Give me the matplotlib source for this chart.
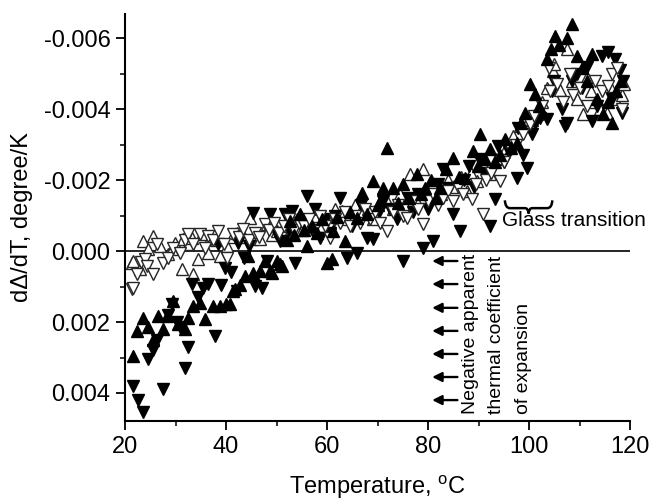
import matplotlib
matplotlib.use('Agg')
import matplotlib.pyplot as plt
from matplotlib.path import Path
from matplotlib.patches import PathPatch
import numpy as np

plt.rcParams['font.family'] = ['Liberation Sans', 'DejaVu Sans']
plt.rcParams['mathtext.fontset'] = 'custom'
plt.rcParams['mathtext.rm'] = 'Liberation Sans'

# valores (dDelta/dT em unidades de 1e-3 degree/K)
up_filled_t = [21.5, 22.4, 23.5, 24.5, 25.5, 26.5, 27.5, 28.2, 29.4, 30.5, 31.9, 32.5, 33.5, 34.8,
               35.8, 37.4, 38.8, 40.0, 40.8, 41.4, 41.8, 42.8, 43.8, 44.4, 45.3, 46.7, 47.7, 48.7,
               49.1, 50.1, 50.7, 51.1, 52.0, 52.7, 53.5, 54.7, 55.4, 56.0, 57.0, 58.0, 59.0, 60.0,
               61.0, 61.2, 62.0, 63.6, 64.5, 65.9, 66.9, 67.9, 69.1, 70.0, 71.1, 71.9, 73.1, 74.0,
               75.1, 76.2, 77.8, 78.5, 79.4, 80.5, 81.5, 82.4, 83.5, 85.0, 86.2, 87.3, 88.9, 89.8,
               90.3, 91.3, 92.3, 93.2, 94.2, 95.2, 96.5, 97.6, 98.3, 99.2, 100.2, 101.2, 102.0,
               103.6, 104.3, 105.1, 106.0, 107.5, 108.5, 109.5, 110.5, 111.5, 112.5, 113.5, 114.7,
               115.6, 116.5, 117.3, 118.2]
up_filled_v = [2.95, 2.25, 1.88, 2.15, 2.5, 1.82, 2.2, 1.83, 1.4, 2.05, 2.2, 1.88, 1.55, 1.46,
               1.92, 1.55, 1.55, 1.5, 1.48, 1.13, 1.07, 0.95, 0.70, 0.14, 0.62, 0.56, 0.28, 0.56,
               0.62, 0.28, 0.37, 0.42, -0.30, -0.85, -0.45, -1.04, -0.60, -0.14, -0.70, -0.50, -0.90, 0.34,
               0.23, -0.56, -0.95, -0.28, -1.10, -0.93, -1.63, -1.04, -1.97, -1.30, -1.77, -2.90, -1.77, -1.35,
               -1.89, -1.50, -2.17, -1.60, -1.77, -2.00, -1.50, -1.77, -2.30, -2.62, -2.10, -2.06, -2.82, -2.40,
               -3.30, -2.59, -2.87, -2.50, -2.70, -3.15, -2.90, -3.04, -3.60, -3.89, -4.70, -4.42, -4.10,
               -5.40, -5.70, -6.05, -5.80, -6.00, -6.40, -5.50, -5.15, -4.80, -5.55, -4.30, -3.85,
               -4.20, -3.60, -4.50, -4.80]

down_filled_t = [21.5, 22.6, 23.5, 24.6, 25.5, 26.3, 27.5, 28.5, 29.3, 30.2, 30.9, 31.9, 32.5, 33.2,
                 34.5, 35.5, 36.5, 37.8, 38.4, 39.0, 39.8, 41.0, 42.1, 42.4, 43.5, 44.5, 45.3, 45.8,
                 47.1, 48.1, 48.7, 49.8, 50.7, 51.7, 52.5, 53.1, 53.7, 54.5, 56.0, 57.0, 57.6, 58.6,
                 59.5, 60.5, 61.5, 62.6, 64.0, 65.0, 65.9, 66.8, 67.9, 69.1, 70.2, 71.0, 72.5, 73.8,
                 75.1, 76.0, 77.0, 78.0, 79.0, 80.0, 81.0, 82.0, 83.0, 84.0, 85.0, 86.3, 87.2, 88.0,
                 89.0, 90.0, 91.0, 92.3, 93.3, 93.9, 95.0, 96.0, 97.6, 97.8, 98.8, 99.6, 100.5, 101.2,
                 102.2, 103.6, 104.5, 105.0, 106.5, 107.1, 107.5, 108.5, 109.5, 110.5, 111.5, 112.5,
                 113.5, 114.5, 115.6, 116.5, 117.0, 118.0, 118.6, 118.4]
down_filled_v = [3.80, 4.20, 4.55, 3.05, 2.80, 2.50, 3.90, 1.80, 1.50, 2.00, 2.15, 3.30, 2.70, 0.93,
                 1.30, 1.05, 0.93, 2.40, -0.20, 0.95, 0.48, 0.60, 1.13, -0.23, 0.20, -0.15, -1.07, 0.99,
                 1.03, 0.28, -1.04, -0.50, -0.28, -1.04, -0.60, -1.13, 0.34, -0.80, -1.55, -0.60, -1.18, -0.37,
                 -0.90, -0.50, -1.00, -1.50, 0.20, -0.70, 0.06, -1.30, -0.37, -0.34, -1.10, -1.40, -1.20, -0.90,
                 0.28, -1.50, -1.10, -1.60, -0.08, -1.20, -0.28, -1.90, -2.30, -1.77, -1.04, -0.56, -2.00, -2.40,
                 -1.80, -2.60, -2.20, -0.70, -1.46, -2.96, -2.50, -2.80, -2.06, -3.46, -2.70, -2.34, -3.30, -3.60,
                 -3.75, -3.72, -4.50, -4.80, -4.00, -3.52, -3.60, -4.80, -5.00, -4.60, -5.20, -3.66,
                 -4.10, -5.50, -5.60, -4.30, -5.40, -5.10, -4.80, -3.90]

up_open_t = [21.3, 21.6, 22.9, 23.6, 24.6, 25.6, 26.9, 28.4, 29.3, 29.9, 31.2, 31.5, 32.5, 33.2,
             33.5, 34.5, 35.2, 36.4, 36.8, 38.0, 38.8, 40.2, 41.2, 42.2, 43.5, 44.8, 45.1, 46.7,
             48.1, 49.0, 50.1, 51.5, 52.5, 54.0, 55.0, 56.5, 57.5, 58.5, 59.2, 60.5, 61.5, 63.0,
             64.0, 65.5, 66.5, 68.0, 69.0, 70.5, 71.9, 73.0, 74.5, 75.5, 76.4, 77.5, 79.0, 80.0,
             81.0, 82.5, 84.0, 85.5, 86.5, 87.7, 88.5, 89.7, 91.0, 92.3, 93.5, 94.3, 95.5, 96.8,
             98.2, 99.5, 100.5, 101.6, 102.5, 103.5, 104.8, 105.0, 106.2, 107.5, 108.5, 109.5, 110.7,
             111.5, 112.2, 113.0, 114.0, 115.4, 116.0, 117.0, 118.4, 118.8]
up_open_v = [0.34, 0.28, 0.50, -0.28, -0.06, -0.42, -0.14, 0.08, -0.06, -0.23, 0.50, -0.34, -0.20, -0.37,
             0.65, 0.23, -0.48, 0.06, -0.37, -0.30, 0.14, -0.14, -0.40, -0.51, -0.40, -0.93, -0.34, -0.34,
             -0.76, -0.45, -0.56, -0.70, -0.50, -0.90, -0.60, -0.80, -1.00, -0.70, -0.90, -0.80, -1.20, -1.13,
             -0.90, -1.30, -1.10, -1.20, -0.90, -1.40, -1.40, -1.20, -1.60, -1.30, -2.17, -1.50, -2.30, -1.70,
             -1.90, -1.60, -2.00, -1.80, -2.10, -1.69, -2.20, -1.97, -2.40, -2.17, -2.60, -2.62, -2.90, -3.24,
             -3.52, -3.60, -3.70, -3.86, -4.20, -4.60, -5.07, -5.27, -4.55, -5.70, -4.80, -4.30, -3.85,
             -4.90, -4.50, -4.20, -4.00, -3.90, -4.65, -4.30, -4.40, -4.70]

down_open_t = [21.3, 21.6, 22.3, 23.2, 24.0, 24.3, 25.6, 26.3, 27.5, 28.5, 29.5, 30.9, 31.8, 32.5,
               33.5, 34.8, 35.8, 36.4, 37.5, 38.4, 39.5, 40.2, 41.4, 42.5, 43.4, 44.5, 45.7, 46.5,
               47.7, 48.5, 49.5, 50.5, 51.5, 52.5, 53.5, 54.5, 55.5, 56.5, 57.5, 58.5, 59.5, 60.6,
               61.5, 62.5, 63.5, 64.5, 65.5, 66.5, 67.5, 68.5, 69.5, 70.5, 71.9, 73.0, 74.0, 75.0,
               75.8, 77.0, 78.0, 79.0, 80.0, 81.0, 82.0, 83.0, 84.0, 85.0, 86.0, 87.0, 88.7, 89.5,
               90.9, 91.5, 92.5, 94.3, 95.0, 96.2, 97.5, 98.8, 100.2, 101.0, 102.5, 104.0, 104.2,
               105.5, 106.8, 108.0, 108.7, 110.0, 111.5, 113.0, 114.5, 115.6, 116.5, 117.4, 118.4]
down_open_v = [1.07, 1.04, 0.65, 0.30, 0.23, 0.42, 0.65, -0.20, 0.34, 0.20, -0.10, 0.06, -0.30, -0.48,
               -0.20, -0.48, -0.10, -0.42, -0.30, -0.56, -0.20, 0.20, -0.48, -0.40, -0.62, -0.30, -0.51, -0.40,
               -0.76, -0.60, -0.80, -0.50, -0.70, -0.90, -0.60, -0.80, -0.70, -0.90, -0.60, -1.00, -0.70, -0.37,
               -0.90, -0.80, -1.10, -0.70, -1.00, -0.80, -1.20, -0.90, -1.10, -0.80, -0.56, -1.10, -1.30, -1.00,
               -0.93, -1.40, -1.20, -0.76, -1.40, -1.60, -1.30, -1.50, -1.70, -1.40, -1.80, -1.60, -1.46, -1.90,
               -1.04, -2.00, -2.20, -1.97, -2.50, -2.90, -3.00, -3.30, -3.58, -3.80, -4.10, -5.15, -4.50,
               -4.70, -4.20, -5.00, -4.40, -4.60, -4.10, -4.80, -4.50, -4.65, -5.00, -5.15, -4.00]

# setas "Negative apparent ..." (posicoes em y)
arrow_y = [0.28, 0.93, 1.60, 2.25, 2.90, 3.55, 4.20]

x_ticks = [20, 40, 60, 80, 100, 120]
y_ticks = [-0.006, -0.004, -0.002, 0.000, 0.002, 0.004]
y_tick_labels = ['-0.006', '-0.004', '-0.002', '0.000', '0.002', '0.004']

fig = plt.figure(figsize=(6.55, 5.03), dpi=100)
ax = fig.add_axes([0.191, 0.163, 0.771, 0.809])

ms = 9
ax.plot(up_open_t, np.array(up_open_v) * 1e-3, '^', ms=ms, mfc='white', mec='0.15', mew=1.0, ls='none')
ax.plot(down_filled_t, np.array(down_filled_v) * 1e-3, 'v', ms=ms, color='black', ls='none')
ax.plot(down_open_t, np.array(down_open_v) * 1e-3, 'v', ms=ms, mfc='white', mec='0.15', mew=1.0, ls='none')
ax.plot(up_filled_t, np.array(up_filled_v) * 1e-3, '^', ms=ms, color='black', ls='none')

ax.axhline(0, color='black', lw=1.2, zorder=1)

for y in arrow_y:
    ax.annotate('', xy=(80.8, y * 1e-3), xytext=(85.8, y * 1e-3),
                arrowprops=dict(arrowstyle='-|>', color='black', lw=1.7, mutation_scale=14,
                                shrinkA=0, shrinkB=0))

ax.text(88.3, 4.6e-3, 'Negative apparent', rotation=90, ha='center', va='bottom', fontsize=14)
ax.text(93.6, 4.6e-3, 'thermal coefficient', rotation=90, ha='center', va='bottom', fontsize=14)
ax.text(98.8, 4.6e-3, 'of expansion', rotation=90, ha='center', va='bottom', fontsize=14)

# chave da transicao vitrea (desenhada como curva)
bx0, bx1, bm = 95.2, 104.6, 99.9
by_end, by_mid, by_tip = -1.43e-3, -1.21e-3, -1.06e-3
brace_verts = [(bx0, by_end), (bx0 + 0.1, by_mid), (bx0 + 1.0, by_mid),
               (bm - 0.7, by_mid), (bm - 0.1, by_mid), (bm, by_tip),
               (bm + 0.1, by_mid), (bm + 0.7, by_mid),
               (bx1 - 1.0, by_mid), (bx1 - 0.1, by_mid), (bx1, by_end)]
brace_codes = [Path.MOVETO, Path.CURVE3, Path.CURVE3,
               Path.LINETO, Path.CURVE3, Path.CURVE3,
               Path.CURVE3, Path.CURVE3,
               Path.LINETO, Path.CURVE3, Path.CURVE3]
ax.add_patch(PathPatch(Path(brace_verts, brace_codes), fill=False, lw=1.8, edgecolor='black'))
ax.text(94.6, -0.85e-3, 'Glass transition', ha='left', va='center', fontsize=15)

ax.set_xlim(20, 120)
ax.set_ylim(0.00479, -0.00668)
ax.set_xticks(x_ticks)
ax.set_xticks(np.arange(30, 120, 20), minor=True)
ax.set_yticks(y_ticks)
ax.set_yticklabels(y_tick_labels)
ax.set_yticks(np.arange(-0.005, 0.0046, 0.002), minor=True)

ax.spines['top'].set_visible(False)
ax.spines['right'].set_visible(False)
ax.spines['left'].set_linewidth(1.5)
ax.spines['bottom'].set_linewidth(1.5)
ax.tick_params(which='major', direction='out', length=6.5, width=1.3, labelsize=17, pad=4)
ax.tick_params(which='minor', direction='out', length=3.8, width=1.1)

ax.set_xlabel(r'Temperature, $^{\mathrm{o}}$C', fontsize=17, labelpad=11)
ax.set_ylabel('d\u0394/dT, degree/K', fontsize=17, labelpad=8)

plt.savefig('out.png', dpi=100)
